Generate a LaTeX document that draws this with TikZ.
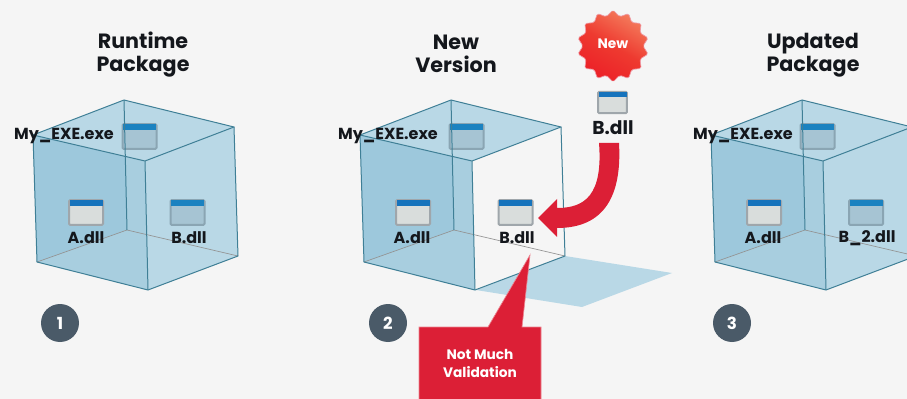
\documentclass[tikz,border=0pt]{standalone}
\usepackage{fontspec}
\setmainfont{Poppins}
\usetikzlibrary{shapes.geometric}
\definecolor{bgc}{HTML}{F5F5F5}
\definecolor{edgec}{HTML}{3F7F96}
\definecolor{leftc}{HTML}{9DC8DC}
\definecolor{midc}{HTML}{A8CEDF}
\definecolor{lightc}{HTML}{B9D8E6}
\definecolor{redc}{HTML}{DC1F36}
\definecolor{badgec}{HTML}{4A5A68}
\definecolor{inkc}{HTML}{14171C}
\definecolor{winbar}{HTML}{1673BC}
\definecolor{winbarb}{HTML}{1B82C0}
\definecolor{winedge}{HTML}{8AA5B3}
\definecolor{winfill}{HTML}{A6C4D3}
\definecolor{winplain}{HTML}{9FA6AB}
\definecolor{winpale}{HTML}{D9DDDC}
\definecolor{starhi}{HTML}{F47C5C}
\definecolor{starmid}{HTML}{EE3A30}
\definecolor{starlo}{HTML}{EC2027}
\tikzset{
  edge/.style={draw=edgec,line width=0.75pt,line join=round},
  floorline/.style={draw=gray!85,line width=0.5pt},
  iconbox/.style={rectangle,rounded corners=0.8pt,draw=#1,line width=1.5pt,minimum width=25.5pt,minimum height=18.5pt,inner sep=0pt},
  title/.style={font=\fontsize{15.5}{17.2}\selectfont\bfseries,text=inkc,align=center},
  lbl/.style={font=\fontsize{12}{14}\selectfont\bfseries,text=inkc},
  badge/.style={circle,fill=badgec,text=white,minimum size=28.5pt,inner sep=0pt,font=\fontsize{12.5}{14}\selectfont\bfseries},
}
% name, centre x, centre y, 0 = clear / 1 = seen through the glass
\newcommand{\winicon}[4]{%
  \ifnum#4=0
    \node[iconbox=winplain,fill=winpale] (#1) at (#2,#3) {};
    \fill[winbar] (#2-16.5,#3-12.5) rectangle (#2+16.5,#3-6.5);
  \else
    \node[iconbox=winedge,fill=winfill] (#1) at (#2,#3) {};
    \fill[winbarb] (#2-16.5,#3-12.5) rectangle (#2+16.5,#3-6.5);
  \fi}
\newcommand{\cubeback}{%
  \fill[midc] (33,135) -- (145,161) -- (148,290) -- (37,262) -- cycle;
  \fill[leftc] (33,135) -- (124,100) -- (127,230) -- (37,262) -- cycle;
  \fill[midc] (37,262) -- (127,230) -- (148,290) -- cycle;
  \fill[lightc] (33,135) -- (124,100) -- (234,127) -- (145,161) -- cycle;
}
\newcommand{\cubelines}{%
  \path[floorline] (37,262) -- (127,230) -- (238,256);
  \path[edge] (33,135) -- (124,100) -- (234,127) -- (145,161) -- cycle;
  \path[edge] (124,100) -- (127,230);
  \path[edge] (33,135) -- (37,262) -- (148,290) -- (238,256) -- (234,127);
  \path[edge] (145,161) -- (148,290);
}
\begin{document}
\begin{tikzpicture}[x=0.75pt,y=-0.75pt]
\useasboundingbox (0,0) rectangle (907,399);
\clip (0,0) rectangle (907,399);
\fill[bgc] (0,0) rectangle (907,399);

% ---- box 1
\begin{scope}
  \cubeback
  \fill[lightc] (145,161) -- (234,127) -- (238,256) -- (148,290) -- cycle;
  \winicon{a1}{86}{212.5}{0}
  \winicon{b1}{187.5}{212.5}{1}
  \winicon{e1}{139.5}{136.5}{1}
  \cubelines
  \node[lbl] (la1) at (86,238) {A.dll};
  \node[lbl] (lb1) at (189,238) {B.dll};
  \node[lbl] (le1) at (64,136) {My\_EXE.exe};
\end{scope}
\node[title] (t1) at (143,55) {Runtime\\Package};
\node[badge] (n1) at (60,323) {1};

% ---- box 2
\fill[lightc] (565,256) -- (672,273) -- (582,307) -- (476,290) -- cycle;
\begin{scope}[shift={(327,0)}]
  \cubeback
  \fill[bgc] (145,161) -- (234,127) -- (238,256) -- (148,290) -- cycle;
  \winicon{a2}{86}{212.5}{0}
  \winicon{b2}{188.5}{212.5}{0}
  \winicon{e2}{139.5}{136.5}{1}
  \cubelines
  \node[lbl] (la2) at (85,238) {A.dll};
  \node[lbl] (lb2) at (190,238) {B.dll};
  \node[lbl] (le2) at (61,136) {My\_EXE.exe};
\end{scope}
\node[title] (t2) at (456,54) {New\\Version};
\node[badge] (n2) at (388,323) {2};

% ---- callout
\path[fill=redc,draw=redc!55!white,line width=0.5pt]
  (419,399) -- (419,327) -- (488,327) -- (530,255) -- (522,327) -- (541,327) -- (541,399);
\node[font=\fontsize{10.3}{14.2}\selectfont\bfseries,text=white,align=center] (note) at (480,363.5) {Not Much\\Validation};

% ---- new component
\node[star,star points=14,star point ratio=1.2,minimum size=54pt,inner sep=0pt,rounded corners=1.2pt,
      draw=redc!45!white,line width=0.5pt,top color=starhi,bottom color=starlo,middle color=starmid,shading angle=-30] (new) at (613,46) {};
\node[font=\fontsize{10.3}{12}\selectfont\bfseries,text=white] (newt) at (613,44) {New};
\node[rectangle,rounded corners=0.8pt,draw=winplain,fill=winpale,line width=1.5pt,minimum width=21.5pt,minimum height=16pt,inner sep=0pt] (bn) at (612.5,102.5) {};
\fill[winbar] (598.5,92) rectangle (626.5,97);
\node[font=\fontsize{14}{16}\selectfont\bfseries,text=inkc] (lbn) at (613,128) {B.dll};

% ---- curved arrow
\fill[redc] (599,143) -- (619,143) .. controls (622,195) and (605,228) .. (557,228)
  -- (557,237) -- (538,218) -- (557,199) -- (557,208)
  .. controls (585,208) and (603,195) .. (599,143) -- cycle;

% ---- box 3
\begin{scope}[shift={(678,0)}]
  \cubeback
  \fill[lightc] (145,161) -- (234,127) -- (238,256) -- (148,290) -- cycle;
  \winicon{a3}{86}{212.5}{0}
  \winicon{b3}{188}{212.5}{1}
  \winicon{e3}{139.5}{136.5}{1}
  \cubelines
  \node[lbl] (la3) at (85,238) {A.dll};
  \node[lbl] (lb3) at (189,238) {B\_2.dll};
  \node[lbl] (le3) at (65,136) {My\_EXE.exe};
\end{scope}
\node[title] (t3) at (813,55) {Updated\\Package};
\node[badge] (n3) at (732,323) {3};
\end{tikzpicture}
\end{document}
